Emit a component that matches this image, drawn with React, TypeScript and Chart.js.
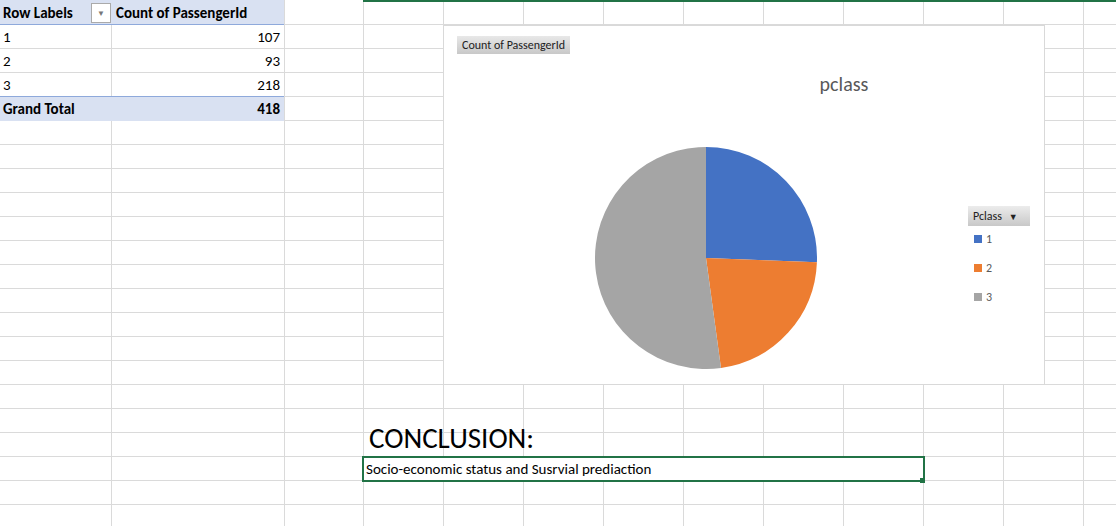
import { useEffect, useRef } from "react";
import { Chart } from "chart.js/auto";

const classes = ["1", "2", "3"];
const counts = [107, 93, 218];
const colors = ["#4472C4", "#ED7D31", "#A5A5A5"];

const colLines = [111, 284, 363, 443, 523, 603, 683, 763, 843, 923, 1003, 1083];
const rowLines = Array.from({ length: 21 }, (_, i) => 24 + i * 24);

const font = "Calibri, Carlito, 'Liberation Sans', Arial, sans-serif";

export default function App() {
  const canvasRef = useRef<HTMLCanvasElement>(null);

  useEffect(() => {
    if (!canvasRef.current) return;
    const chart = new Chart(canvasRef.current, {
      type: "pie",
      data: {
        labels: classes,
        datasets: [{ data: counts, backgroundColor: colors, borderWidth: 0 }],
      },
      options: {
        animation: false,
        responsive: false,
        plugins: { legend: { display: false }, tooltip: { enabled: false } },
      },
    });
    return () => chart.destroy();
  }, []);

  return (
    <div style={{ position: "fixed", left: 0, top: 0, width: 1116, height: 526, background: "#fff", overflow: "hidden", fontFamily: font }}>
      {colLines.map((x) => (
        <div key={"c" + x} style={{ position: "absolute", left: x, top: 0, width: 1, height: 526, background: "#dadada" }} />
      ))}
      {rowLines.map((y) => (
        <div key={"r" + y} style={{ position: "absolute", left: 0, top: y, width: 1116, height: 1, background: "#dadada" }} />
      ))}
      <div style={{ position: "absolute", left: 363, top: 0, width: 753, height: 2, background: "#217346" }} />
      {/* pivot table */}
      <div style={{ position: "absolute", left: 0, top: 0, width: 284, height: 24, background: "#D9E1F2", borderBottom: "1px solid #8EA9DB" }} />
      <div style={{ position: "absolute", left: 3, top: 4, fontSize: 15, fontWeight: "bold" }}>Row Labels</div>
      <div style={{ position: "absolute", left: 91, top: 3, width: 18, height: 18, border: "1px solid #aaa", background: "#fff", fontSize: 8, color: "#777", textAlign: "center", lineHeight: "18px" }}>▼</div>
      <div style={{ position: "absolute", left: 116, top: 4, fontSize: 15, fontWeight: "bold" }}>Count of PassengerId</div>
      {classes.map((c, i) => (
        <div key={c}>
          <div style={{ position: "absolute", left: 3, top: 28 + i * 24, fontSize: 15 }}>{c}</div>
          <div style={{ position: "absolute", left: 180, width: 100, textAlign: "right", top: 28 + i * 24, fontSize: 15 }}>{counts[i]}</div>
        </div>
      ))}
      <div style={{ position: "absolute", left: 0, top: 96, width: 284, height: 24, background: "#D9E1F2", borderTop: "1px solid #8EA9DB" }} />
      <div style={{ position: "absolute", left: 3, top: 100, fontSize: 15, fontWeight: "bold" }}>Grand Total</div>
      <div style={{ position: "absolute", left: 180, width: 100, textAlign: "right", top: 100, fontSize: 15, fontWeight: "bold" }}>
        {counts.reduce((a, b) => a + b, 0)}
      </div>
      {/* chart box */}
      <div style={{ position: "absolute", left: 443, top: 25, width: 600, height: 358, background: "#fff", border: "1px solid #d9d9d9" }}>
        <div style={{ position: "absolute", left: 13, top: 10, padding: "2px 5px", fontSize: 12, background: "linear-gradient(#e8e8e8,#c8c8c8)", color: "#222" }}>Count of PassengerId</div>
        <div style={{ position: "absolute", left: 0, width: 600, textAlign: "center", top: 46, fontSize: 20, color: "#595959", paddingLeft: 200, boxSizing: "border-box" }}>pclass</div>
        <canvas ref={canvasRef} width={222} height={222} style={{ position: "absolute", left: 151, top: 121, width: 222, height: 222 }} />
        <div style={{ position: "absolute", left: 524, top: 180, width: 62, height: 20, background: "linear-gradient(#ececec,#c8c8c8)", fontSize: 12, lineHeight: "20px", paddingLeft: 5, boxSizing: "border-box", color: "#222" }}>
          Pclass <span style={{ fontSize: 9, marginLeft: 4 }}>▼</span>
        </div>
        {classes.map((c, i) => (
          <div key={c} style={{ position: "absolute", left: 530, top: 206 + i * 29, fontSize: 12, color: "#595959", display: "flex", alignItems: "center", gap: 4 }}>
            <span style={{ width: 8, height: 8, background: colors[i], display: "inline-block" }} />
            {c}
          </div>
        ))}
      </div>
      <div style={{ position: "absolute", left: 369, top: 420, fontSize: 29 }}>CONCLUSION:</div>
      <div style={{ position: "absolute", left: 362, top: 456, width: 559, height: 22, border: "2px solid #217346", background: "#fff" }} />
      <div style={{ position: "absolute", left: 920, top: 478, width: 5, height: 5, background: "#217346" }} />
      <div style={{ position: "absolute", left: 366, top: 460, fontSize: 15 }}>Socio-economic status and Susrvial prediaction</div>
    </div>
  );
}
